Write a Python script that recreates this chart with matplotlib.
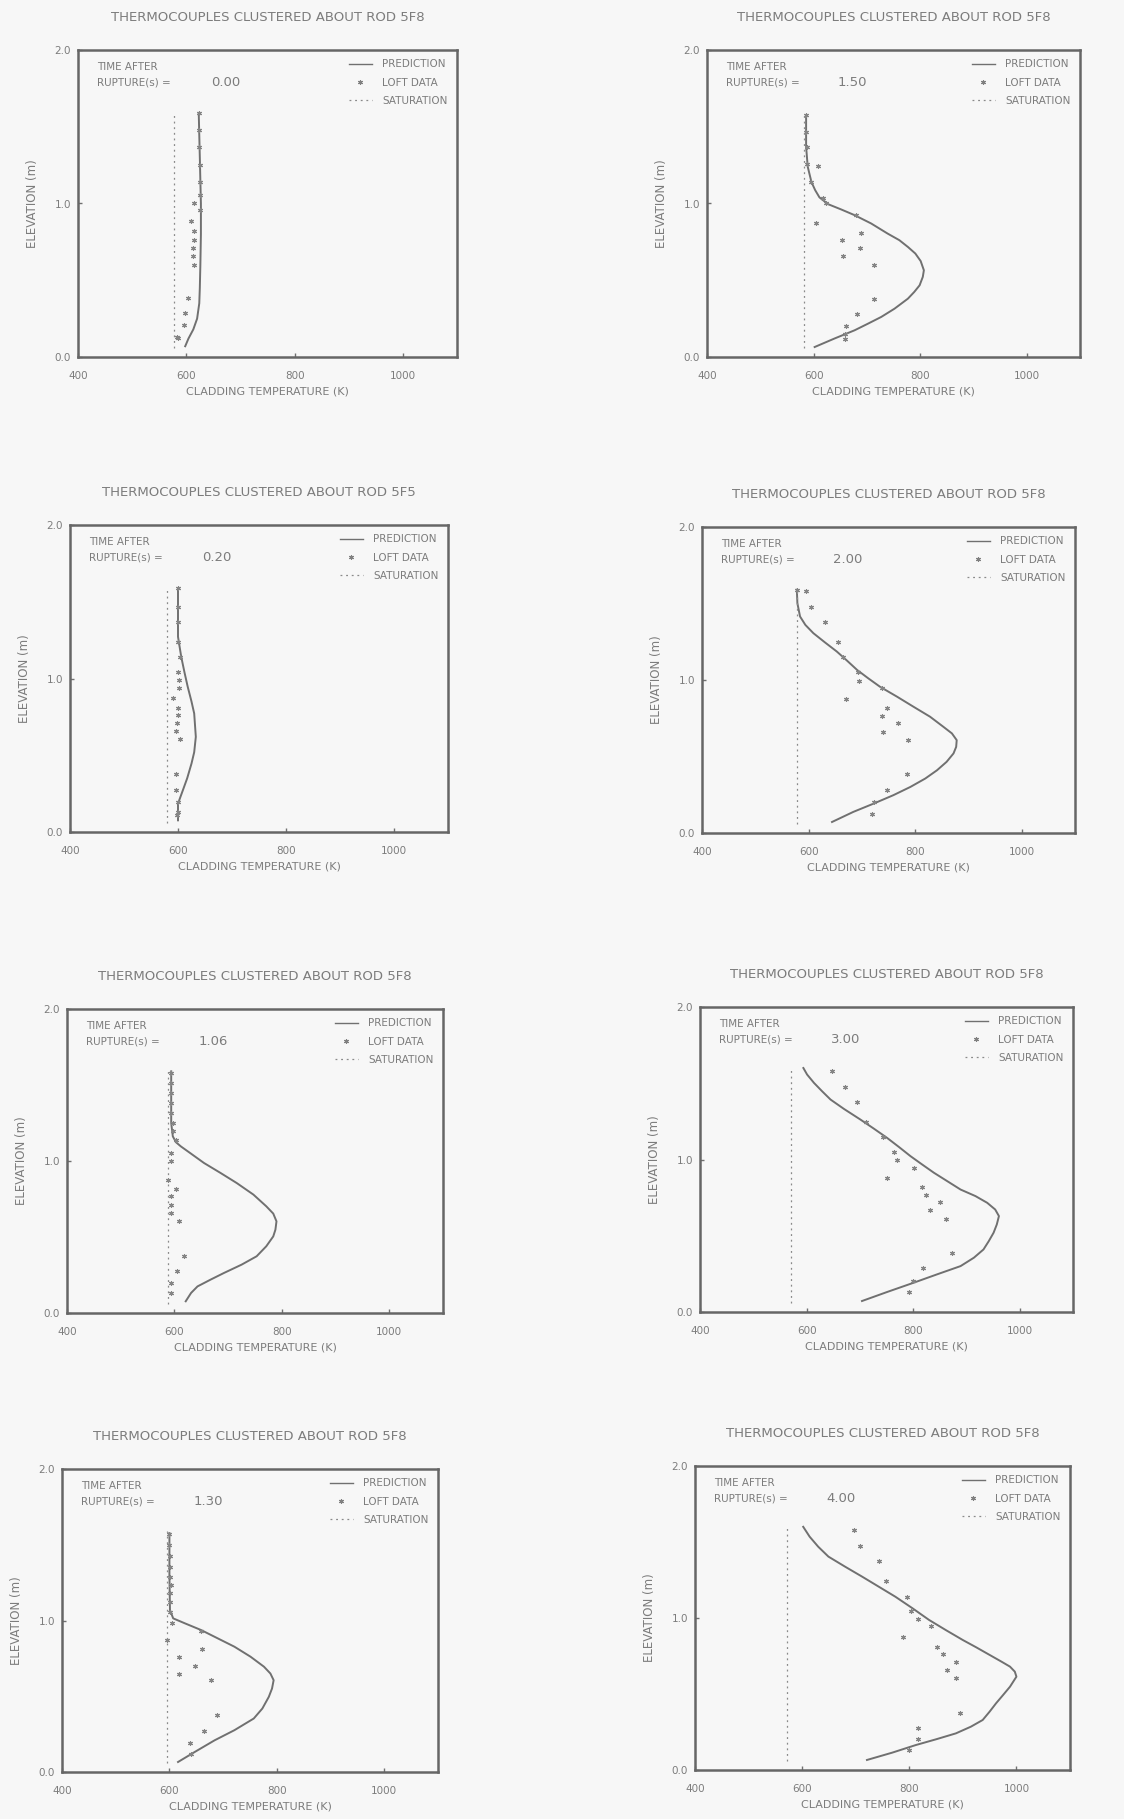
import matplotlib
matplotlib.use("Agg")
import matplotlib.pyplot as plt
from matplotlib.lines import Line2D

# ---- data ----
rupture_times = ["0.00", "1.50", "0.20", "2.00", "1.06", "3.00", "1.30", "4.00"]
rod_names = ["5F8", "5F8", "5F5", "5F8", "5F8", "5F8", "5F8", "5F8"]
sat_temps = [578, 582, 580, 578, 588, 571, 595, 572]
sat_elev = [0.06, 1.59]

# t = 0.00 s
pred_z_000 = [1.59, 1.30, 1.00, 0.80, 0.60, 0.45, 0.35, 0.25, 0.18, 0.12, 0.07]
pred_t_000 = [623, 625, 627, 627, 626, 625, 624, 620, 613, 604, 598]
loft_z_000 = [1.588, 1.479, 1.371, 1.252, 1.143, 1.056, 1.002, 0.959, 0.883, 0.818,
              0.764, 0.709, 0.655, 0.601, 0.384, 0.286, 0.210, 0.130, 0.124]
loft_t_000 = [623, 623, 623, 625, 625, 625, 614, 626, 609, 615,
              615, 612, 612, 615, 603, 597, 596, 582, 585]

# t = 1.50 s
pred_z_150 = [1.576, 1.37, 1.24, 1.14, 1.087, 1.04, 0.996, 0.961, 0.924, 0.870,
              0.804, 0.761, 0.717, 0.674, 0.625, 0.565, 0.522, 0.467, 0.424, 0.38,
              0.315, 0.261, 0.217, 0.174, 0.120, 0.065]
pred_t_150 = [586, 586, 589, 596, 603, 611, 627, 652, 677, 708,
              739, 761, 777, 791, 801, 807, 805, 799, 789, 777,
              752, 727, 702, 677, 639, 602]
loft_z_150 = [1.576, 1.467, 1.37, 1.26, 1.243, 1.141, 1.039, 1.0, 0.924, 0.874,
              0.809, 0.761, 0.707, 0.657, 0.598, 0.376, 0.278, 0.20, 0.152, 0.12]
loft_t_150 = [586, 586, 588, 588, 608, 596, 618, 624, 680, 605,
              689, 654, 688, 655, 713, 713, 682, 661, 659, 659]

# t = 0.20 s
pred_z_020 = [1.587, 1.272, 1.141, 1.04, 0.946, 0.85, 0.772, 0.62, 0.52, 0.446,
              0.35, 0.272, 0.185, 0.076]
pred_t_020 = [600, 600, 606, 612, 618, 625, 630, 633, 630, 625,
              617, 609, 600, 600]
loft_z_020 = [1.587, 1.467, 1.370, 1.239, 1.141, 1.043, 0.989, 0.935, 0.870, 0.811,
              0.761, 0.707, 0.659, 0.609, 0.376, 0.276, 0.196, 0.130, 0.109]
loft_t_020 = [600, 600, 600, 600, 603, 600, 601, 601, 591, 600,
              600, 598, 597, 603, 597, 597, 600, 600, 598]

# t = 2.00 s
pred_z_200 = [1.59, 1.502, 1.415, 1.360, 1.306, 1.245, 1.186, 1.127, 1.066, 1.011,
              0.956, 0.891, 0.825, 0.760, 0.694, 0.651, 0.607, 0.563, 0.52, 0.465,
              0.41, 0.356, 0.301, 0.247, 0.192, 0.138, 0.072]
pred_t_200 = [578, 579, 584, 594, 609, 631, 653, 672, 691, 712,
              734, 766, 797, 828, 853, 869, 878, 877, 872, 859,
              841, 819, 791, 759, 722, 684, 644]
loft_z_200 = [1.585, 1.579, 1.476, 1.376, 1.247, 1.153, 1.050, 0.993, 0.945, 0.876,
              0.819, 0.764, 0.716, 0.662, 0.611, 0.384, 0.284, 0.203, 0.127]
loft_t_200 = [578, 595, 604, 631, 656, 664, 692, 694, 737, 671,
              747, 737, 767, 739, 787, 784, 747, 722, 719]

# t = 1.06 s
pred_z_106 = [1.59, 1.25, 1.162, 1.123, 1.096, 1.048, 0.987, 0.921, 0.855, 0.779,
              0.702, 0.654, 0.603, 0.548, 0.504, 0.439, 0.373, 0.318, 0.263, 0.219,
              0.175, 0.132, 0.077]
pred_t_106 = [594, 594, 597, 603, 612, 631, 655, 686, 716, 747,
              771, 784, 790, 788, 784, 771, 753, 725, 692, 667,
              643, 631, 621]
loft_z_106 = [1.579, 1.513, 1.447, 1.382, 1.316, 1.25, 1.195, 1.14, 1.05, 1.0,
              0.877, 0.816, 0.768, 0.713, 0.658, 0.603, 0.377, 0.274, 0.197, 0.132]
loft_t_106 = [594, 594, 594, 594, 594, 597, 597, 603, 594, 594,
              588, 603, 594, 594, 593, 609, 617, 605, 594, 594]

# t = 3.00 s
pred_z_300 = [1.60, 1.557, 1.502, 1.448, 1.393, 1.332, 1.262, 1.203, 1.142, 1.083,
              1.022, 0.967, 0.913, 0.858, 0.803, 0.760, 0.716, 0.672, 0.629, 0.574,
              0.52, 0.465, 0.41, 0.356, 0.301, 0.247, 0.192, 0.131, 0.072]
pred_t_300 = [594, 601, 614, 629, 645, 670, 701, 726, 751, 773,
              795, 817, 839, 864, 889, 917, 939, 954, 961, 957,
              951, 942, 932, 914, 889, 845, 801, 751, 704]
loft_z_300 = [1.579, 1.476, 1.376, 1.245, 1.146, 1.048, 0.996, 0.943, 0.880, 0.819,
              0.766, 0.72, 0.668, 0.613, 0.389, 0.286, 0.203, 0.133]
loft_t_300 = [647, 672, 695, 712, 744, 764, 769, 802, 750, 817,
              825, 851, 832, 862, 873, 819, 800, 792]

# t = 1.30 s
pred_z_130 = [1.577, 1.30, 1.069, 1.014, 0.981, 0.937, 0.882, 0.827, 0.761, 0.695,
              0.650, 0.606, 0.551, 0.496, 0.419, 0.353, 0.276, 0.209, 0.132, 0.066]
pred_t_130 = [600, 600, 601, 607, 629, 659, 690, 721, 751, 776,
              788, 794, 791, 785, 773, 757, 721, 684, 647, 616]
loft_z_130 = [1.572, 1.499, 1.426, 1.356, 1.290, 1.235, 1.180, 1.124, 1.058, 0.981,
              0.931, 0.871, 0.809, 0.756, 0.701, 0.650, 0.606, 0.375, 0.271, 0.192, 0.121]
loft_t_130 = [600, 600, 601, 601, 601, 602, 601, 601, 601, 604,
              658, 595, 661, 618, 647, 618, 678, 688, 664, 638, 640]

# t = 4.00 s
pred_z_400 = [1.60, 1.535, 1.469, 1.404, 1.338, 1.272, 1.206, 1.14, 1.064, 0.987,
              0.921, 0.855, 0.807, 0.757, 0.713, 0.68, 0.647, 0.614, 0.581, 0.548,
              0.493, 0.439, 0.384, 0.329, 0.285, 0.241, 0.202, 0.164, 0.114, 0.066]
pred_t_400 = [602, 614, 630, 649, 680, 712, 743, 774, 806, 837,
              868, 900, 925, 950, 972, 988, 997, 1000, 994, 988,
              975, 962, 950, 937, 915, 887, 850, 812, 768, 721]
loft_z_400 = [1.579, 1.476, 1.375, 1.246, 1.140, 1.046, 0.993, 0.947, 0.873, 0.811,
              0.761, 0.708, 0.658, 0.607, 0.377, 0.274, 0.202, 0.132]
loft_t_400 = [696, 708, 744, 757, 795, 804, 816, 840, 788, 851,
              862, 887, 871, 887, 895, 816, 816, 799]

panels = [
    (pred_t_000, pred_z_000, loft_t_000, loft_z_000),
    (pred_t_150, pred_z_150, loft_t_150, loft_z_150),
    (pred_t_020, pred_z_020, loft_t_020, loft_z_020),
    (pred_t_200, pred_z_200, loft_t_200, loft_z_200),
    (pred_t_106, pred_z_106, loft_t_106, loft_z_106),
    (pred_t_300, pred_z_300, loft_t_300, loft_z_300),
    (pred_t_130, pred_z_130, loft_t_130, loft_z_130),
    (pred_t_400, pred_z_400, loft_t_400, loft_z_400),
]

x_ticks = [400, 600, 800, 1000]
x_tick_labels = ["400", "600", "800", "1000"]
y_ticks = [0.0, 1.0, 2.0]
y_tick_labels = ["0.0", "1.0", "2.0"]

# ---- layout (pixel boxes: left, top, right, bottom) ----
W, H = 1124, 1819
boxes = [
    (78, 50, 457, 357), (707, 50, 1080, 357),
    (70, 525, 448, 832), (702, 527, 1075, 833),
    (67, 1009, 443, 1313), (700, 1007, 1073, 1312),
    (62, 1469, 438, 1772), (695, 1466, 1070, 1770),
]

bg = "#f7f7f7"
ink = "#707070"
txt = "#7c7c7c"

fig = plt.figure(figsize=(W / 100, H / 100), dpi=100, facecolor=bg)

for i, (box, data) in enumerate(zip(boxes, panels)):
    l, t, r, b = box
    ax = fig.add_axes([l / W, 1 - b / H, (r - l) / W, (b - t) / H])
    ax.set_facecolor(bg)
    pt, pz, lt, lz = data

    ax.plot(pt, pz, color=ink, lw=1.4)
    ax.plot(lt, lz, ls="none", marker=(6, 2, 0), ms=3.6, mew=0.8, color="#858585")
    ax.plot([sat_temps[i], sat_temps[i]], sat_elev, color="#8a8a8a", lw=0.9,
            ls=(0, (1.5, 3)))

    ax.set_xlim(400, 1100)
    ax.set_ylim(0, 2.0)
    ax.set_xticks(x_ticks)
    ax.set_xticklabels(x_tick_labels)
    ax.set_yticks(y_ticks)
    ax.set_yticklabels(y_tick_labels)
    ax.tick_params(direction="in", length=3, width=1, color=ink,
                   labelsize=7.5, labelcolor=txt, pad=10)
    ax.tick_params(axis="y", pad=5)
    for s in ax.spines.values():
        s.set_color("#666666")
        s.set_linewidth(1.8)

    ax.set_xlabel("CLADDING TEMPERATURE (K)", fontsize=8, color=txt, labelpad=4)
    ax.set_ylabel("ELEVATION (m)", fontsize=8.5, color=txt, labelpad=11)
    ax.set_title("THERMOCOUPLES CLUSTERED ABOUT ROD " + rod_names[i],
                 fontsize=9.5, color=txt, pad=21)

    ax.text(0.05, 0.96, "TIME AFTER", transform=ax.transAxes,
            fontsize=7.5, color=txt, va="top")
    ax.text(0.05, 0.91, "RUPTURE(s) =", transform=ax.transAxes,
            fontsize=7.5, color=txt, va="top")
    ax.text(0.35, 0.915, rupture_times[i], transform=ax.transAxes,
            fontsize=9.5, color=txt, va="top")

    handles = [
        Line2D([], [], color=ink, lw=1.0),
        Line2D([], [], ls="none", marker=(6, 2, 0), ms=3.5, mew=0.8, color="#808080"),
        Line2D([], [], color="#8a8a8a", lw=0.9, ls=(0, (1.5, 3))),
    ]
    leg = ax.legend(handles, ["PREDICTION", "LOFT DATA", "SATURATION"],
                    loc="upper right", frameon=False, fontsize=7.5,
                    handlelength=2.2, handletextpad=1.0, labelspacing=0.8,
                    borderaxespad=0.5, numpoints=1)
    for tx in leg.get_texts():
        tx.set_color(txt)

fig.savefig("out.png", dpi=100, facecolor=bg)
